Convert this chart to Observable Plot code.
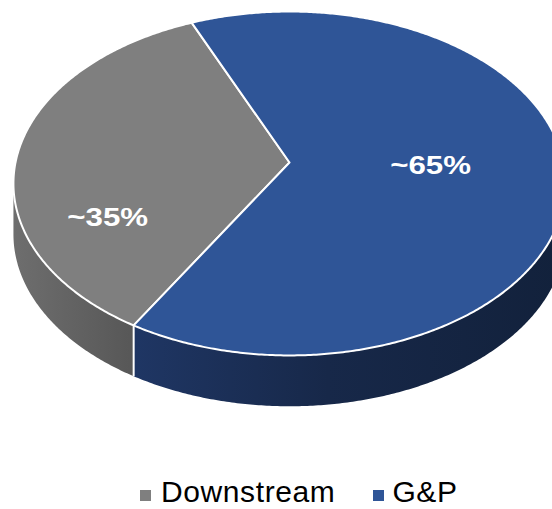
<!DOCTYPE html>
<html><head><meta charset="utf-8">
<script src="https://cdn.jsdelivr.net/npm/d3@7"></script>
<script src="https://cdn.jsdelivr.net/npm/@observablehq/plot@0.6"></script>
<style>
html,body{margin:0;padding:0;background:#fff;overflow:hidden;width:552px;height:509px;}
#wrap{position:relative;width:552px;height:509px;overflow:hidden;}
#legend{position:absolute;left:140px;top:478px;display:flex;align-items:center;height:28px;font:30px/28px "Liberation Sans",Arial,sans-serif;letter-spacing:0.6px;color:#000;white-space:nowrap;}
.sw{width:11px;height:11px;position:relative;top:3px;flex:none;}
</style></head><body><div id="wrap"><div id="chart"></div><div id="legend"></div></div>
<script>
// ---- data ----
const categories = ["Downstream", "G&P"];
const values = [35, 65];
const labels = ["~35%", "~65%"];

// ---- styles ----
const topColors = ["#7F7F7F", "#2F5597"];
const sideFills = ["url(#sideGray)", "url(#sideBlue)"];
const labelNudgePx = [[-32, 61], [-10, -2]];

// ---- geometry (pseudo-3D perspective pie) ----
const K = -0.122;            // perspective factor
const DEPTH = 0.3;           // side depth in y units
const START = 120.6;         // start angle (deg, clockwise on screen)
const XR = 274, YR = 169.4;  // px per unit
const rad = d => d * Math.PI / 180;
function proj(r, deg) {
  const t = rad(deg), u = r * Math.cos(t), v = r * Math.sin(t), d = 1 + K * v;
  return [u / d, v / d];
}
const total = d3.sum(values);
let acc = START;
const slices = categories.map((c, i) => {
  const a0 = acc, a1 = acc + values[i] / total * 360; acc = a1;
  return {c, i, a0, a1};
});

// top faces
const topPts = [];
slices.forEach(s => {
  const n = Math.ceil((s.a1 - s.a0) / 0.5), c = proj(0, 0);
  topPts.push({x: c[0], y: c[1], k: s.c, f: topColors[s.i]});
  for (let j = 0; j <= n; j++) {
    const p = proj(1, s.a0 + (s.a1 - s.a0) * j / n);
    topPts.push({x: p[0], y: p[1], k: s.c, f: topColors[s.i]});
  }
  topPts.push({x: c[0], y: c[1], k: s.c, f: topColors[s.i]});
});

// sides
const visLo = Math.asin(-K) * 180 / Math.PI, visHi = 180 - visLo;
const sidePts = [];
slices.forEach(s => {
  [0, 360].forEach(m => {
    const a = Math.max(s.a0, visLo + m), b = Math.min(s.a1, visHi + m);
    if (b <= a) return;
    const n = Math.ceil((b - a) / 0.5), key = s.c + m;
    for (let j = 0; j <= n; j++) {
      const p = proj(1, a + (b - a) * j / n);
      sidePts.push({x: p[0], y: p[1], k: key, f: sideFills[s.i]});
    }
    for (let j = n; j >= 0; j--) {
      const p = proj(1, a + (b - a) * j / n);
      sidePts.push({x: p[0], y: p[1] + DEPTH, k: key, f: sideFills[s.i]});
    }
  });
});

// visible seams on the side
const seams = [];
slices.forEach(s => {
  const a = ((s.a0 % 360) + 360) % 360;
  if (a > visLo && a < visHi) {
    const p = proj(1, a);
    seams.push({x1: p[0], y1: p[1], x2: p[0], y2: p[1] + DEPTH});
  }
});

// labels
const labelData = slices.map(s => {
  const p = proj(0.55, (s.a0 + s.a1) / 2);
  return {x: p[0] + labelNudgePx[s.i][0] / XR, y: p[1] + labelNudgePx[s.i][1] / YR, t: labels[s.i]};
});

const CX = 289, CY = 162;
const plot = Plot.plot({
  width: 552, height: 470,
  margin: 0,
  x: {domain: [-1, 1], range: [CX - XR, CX + XR], axis: null},
  y: {domain: [-1, 1], range: [CY - YR, CY + YR], axis: null},
  color: {type: "identity"},
  marks: [
    Plot.line(sidePts, {x: "x", y: "y", z: "k", fill: "f", stroke: "none"}),
    Plot.line(topPts, {x: "x", y: "y", z: "k", fill: "f", stroke: "white", strokeWidth: 2, strokeLinejoin: "round"}),
    Plot.link(seams, {x1: "x1", y1: "y1", x2: "x2", y2: "y2", stroke: "white", strokeWidth: 2}),
    Plot.text(labelData, {x: "x", y: "y", text: "t", fill: "white", fontSize: 25, fontWeight: "bold",
      fontFamily: "'Liberation Sans', Arial, sans-serif"})
  ]
});

const ns = "http://www.w3.org/2000/svg";
const defs = document.createElementNS(ns, "defs");
defs.innerHTML =
  '<linearGradient id="sideGray" x1="0" x2="1" y1="0" y2="0">' +
  '<stop offset="0" stop-color="#6e6e6e"/><stop offset="1" stop-color="#575757"/></linearGradient>' +
  '<linearGradient id="sideBlue" x1="0" x2="1" y1="0" y2="0">' +
  '<stop offset="0" stop-color="#1f3664"/><stop offset="0.45" stop-color="#172849"/><stop offset="1" stop-color="#12213b"/></linearGradient>';
plot.insertBefore(defs, plot.firstChild);
document.getElementById("chart").appendChild(plot);

// stretch labels horizontally like the reference
plot.querySelectorAll('g[aria-label="text"] text').forEach(t => {
  const b = t.getBBox(), cx = b.x + b.width / 2;
  const tr = t.getAttribute("transform") || "";
  t.setAttribute("transform", tr + ` translate(${cx},0) scale(1.25,1) translate(${-cx},0)`);
});

// legend
const legend = document.getElementById("legend");
categories.forEach((c, i) => {
  const sw = document.createElement("span");
  sw.className = "sw"; sw.style.background = topColors[i];
  sw.style.marginLeft = i === 0 ? "0px" : "38px";
  const tx = document.createElement("span");
  tx.textContent = c; tx.style.marginLeft = i === 0 ? "10px" : "8px";
  legend.appendChild(sw); legend.appendChild(tx);
});
</script></body></html>
